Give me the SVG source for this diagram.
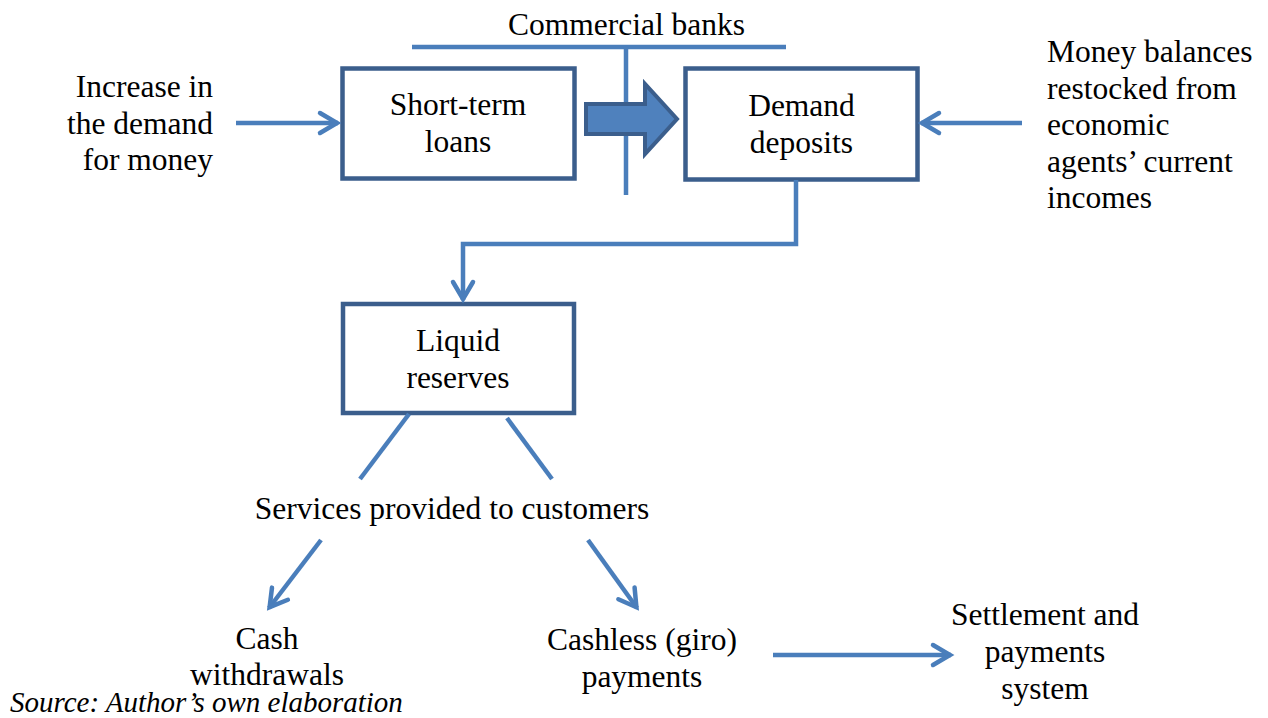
<svg xmlns="http://www.w3.org/2000/svg" width="1268" height="718" viewBox="0 0 1268 718">
<style>
  text { font-family: "Liberation Serif", "Times New Roman", serif; font-size: 31.5px; fill: #000; }
  .c { text-anchor: middle; }
  .e { text-anchor: end; }
  .box { fill: #fff; stroke: #3b5e8c; stroke-width: 4.5; }
  .conn { fill: none; stroke: #4a7ebb; stroke-width: 4.5; }
  .src { font-style: italic; font-size: 29px; }
</style>
<defs>
  <marker id="chev" viewBox="-24 -14 28 28" refX="0" refY="0" markerWidth="28" markerHeight="28" markerUnits="userSpaceOnUse" orient="auto">
    <path d="M-18,-10 L-1,0 L-18,10" fill="none" stroke="#4a7ebb" stroke-width="4.5" stroke-linecap="round"/>
  </marker>
</defs>
<rect width="1268" height="718" fill="#fff"/>

<g id="commercial-banks">
  <line x1="412" y1="47" x2="786" y2="47" class="conn"/>
  <line x1="626" y1="47" x2="626" y2="195" class="conn"/>
  <text x="626.5" y="35" class="c">Commercial banks</text>
</g>

<g id="short-term-loans">
  <rect x="342.5" y="68.5" width="232" height="110" class="box"/>
  <text x="458" y="115" class="c">Short-term</text>
  <text x="458" y="152" class="c">loans</text>
</g>

<g id="demand-deposits">
  <rect x="685.5" y="68.5" width="232" height="111" class="box"/>
  <text x="801.5" y="116" class="c">Demand</text>
  <text x="801.5" y="153" class="c">deposits</text>
</g>

<g id="liquid-reserves">
  <rect x="343" y="304" width="231" height="109" class="box"/>
  <text x="458" y="351" class="c">Liquid</text>
  <text x="458" y="388" class="c">reserves</text>
</g>

<g id="increase-demand">
  <text x="213" y="97" class="e">Increase in</text>
  <text x="213" y="133.5" class="e">the demand</text>
  <text x="213" y="170" class="e">for money</text>
</g>

<g id="money-balances">
  <text x="1047" y="62">Money balances</text>
  <text x="1047" y="98.5">restocked from</text>
  <text x="1047" y="135">economic</text>
  <text x="1047" y="171.5">agents’ current</text>
  <text x="1047" y="208">incomes</text>
</g>

<g id="services">
  <text x="452" y="519" class="c">Services provided to customers</text>
</g>

<g id="cash-withdrawals">
  <text x="267" y="649" class="c">Cash</text>
  <text x="267" y="685" class="c">withdrawals</text>
</g>

<g id="cashless-payments">
  <text x="642" y="650" class="c">Cashless (giro)</text>
  <text x="642" y="687" class="c">payments</text>
</g>

<g id="settlement">
  <text x="1045" y="625" class="c">Settlement and</text>
  <text x="1045" y="662" class="c">payments</text>
  <text x="1045" y="699" class="c">system</text>
</g>

<g id="connectors">
  <polygon points="586,104 645,104 645,84 677,119 645,154 645,134 586,134" fill="#4f81bd" stroke="#3b5e8c" stroke-width="4" stroke-linejoin="miter"/>
  <line x1="236" y1="123" x2="338" y2="123" class="conn" marker-end="url(#chev)"/>
  <line x1="1022" y1="123" x2="921" y2="123" class="conn" marker-end="url(#chev)"/>
  <polyline points="796,180 796,244 463,244 463,300" class="conn" marker-end="url(#chev)"/>
  <line x1="409" y1="414" x2="360" y2="479" class="conn"/>
  <line x1="507" y1="418" x2="552" y2="479" class="conn"/>
  <line x1="321" y1="540" x2="269" y2="608" class="conn" marker-end="url(#chev)"/>
  <line x1="588" y1="540" x2="637" y2="608" class="conn" marker-end="url(#chev)"/>
  <line x1="773" y1="655" x2="951" y2="655" class="conn" marker-end="url(#chev)"/>
</g>

<text x="10" y="712" class="src">Source: Author’s own elaboration</text>
</svg>
